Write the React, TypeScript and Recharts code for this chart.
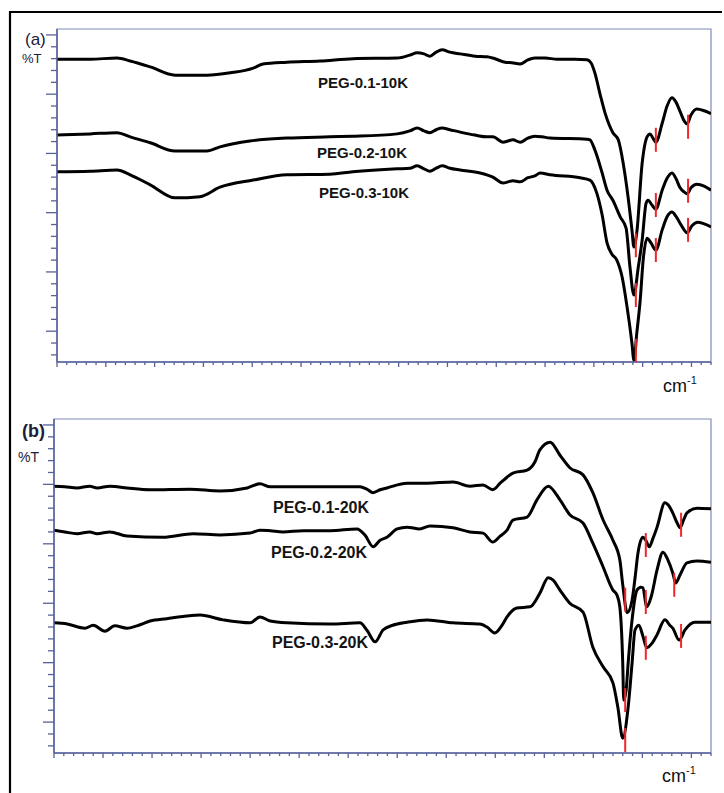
import React from "react";
import { ComposedChart, Line, Scatter, XAxis, YAxis, ReferenceArea } from "recharts";

// position along the (unlabelled) wavenumber axis, %T (offset traces)
const peg01_10k = [
  [0, 95.9], [6.8, 95.9], [12.3, 96.1], [15.0, 95.6], [19.1, 94.6], [24.2, 93.2], [30.7, 93.2], [35.5, 93.6],
  [40.2, 94.4], [42.2, 95.1], [47.1, 95.4], [53.9, 95.6], [60.7, 96.0], [69.7, 96.1], [72.3, 96.6], [73.8, 97.0],
  [75.2, 96.8], [76.4, 96.4], [77.7, 97.1], [78.9, 97.5], [80.5, 97.1], [82.6, 96.8], [85.7, 96.4], [88.1, 96.3],
  [89.3, 96.1], [91.8, 95.4], [93.2, 95.3], [94.9, 95.1], [96.5, 95.8], [97.9, 96.1], [100, 96.1], [102.5, 95.9],
  [106.1, 95.9], [108.6, 95.8], [109.4, 95.3], [110.2, 93.6], [111.3, 89.9], [112.3, 86.8], [113.9, 83.5],
  [115.0, 82.3], [116.0, 78.4], [117.0, 72.7], [117.8, 67.1], [118.2, 64.2], [118.8, 66.7], [119.9, 78.4],
  [120.9, 82.8], [121.5, 83.3], [122.1, 82.6], [122.7, 81.9], [124.0, 85.1], [125.0, 88.0], [126.0, 89.4],
  [126.8, 88.7], [127.7, 87.0], [128.5, 85.5], [129.1, 85.0], [129.9, 86.5], [131.1, 87.5], [132.6, 87.2], [134, 86.7],
];
const peg02_10k = [
  [0, 83.1], [6.8, 83.3], [12.3, 83.5], [15.0, 82.8], [19.1, 81.8], [24.2, 80.4], [30.7, 80.4], [33.4, 81.1],
  [39.5, 82.1], [47.1, 82.6], [55.9, 82.8], [60.6, 82.9], [69.7, 83.3], [72.3, 83.8], [73.8, 84.3], [75.2, 83.8],
  [76.4, 83.5], [77.7, 84.0], [78.9, 84.3], [80.5, 84.0], [82.6, 83.6], [85.6, 83.1], [88.1, 82.8], [89.3, 82.8],
  [91.4, 81.9], [92.4, 82.1], [93.4, 82.3], [94.9, 81.9], [96.5, 82.6], [97.9, 82.9], [99.4, 82.8], [101.0, 82.6],
  [108.6, 82.4], [109.2, 82.3], [110.2, 80.6], [111.7, 76.7], [112.7, 73.8], [113.9, 72.1], [115.4, 69.3],
  [116.6, 67.4], [117.4, 60.8], [118.2, 56.1], [119.1, 60.8], [119.9, 65.4], [120.7, 71.6], [121.1, 72.1],
  [121.9, 71.3], [122.7, 70.6], [124.0, 73.8], [125.0, 75.8], [126.0, 76.7], [126.8, 75.8], [127.6, 74.3],
  [128.5, 73.5], [129.1, 73.2], [129.9, 74.2], [131.1, 74.8], [132.6, 74.5], [134, 73.8],
];
const peg03_10k = [
  [0, 76.9], [6.8, 77.0], [12.3, 77.2], [15.0, 76.4], [19.1, 74.7], [24.2, 72.5], [29.3, 72.7], [33.4, 74.3],
  [40.2, 75.5], [47.1, 76.4], [55.9, 76.5], [60.6, 76.9], [69.7, 77.4], [72.3, 77.5], [73.8, 77.9], [75.2, 77.4],
  [76.4, 77.0], [77.7, 77.5], [78.9, 77.9], [80.5, 77.5], [82.6, 77.2], [86.7, 76.7], [89.3, 76.0], [91.4, 75.0],
  [92.4, 75.2], [93.4, 75.4], [94.9, 75.2], [96.5, 75.9], [97.9, 76.2], [99.0, 76.7], [101.0, 76.4], [107.2, 75.9],
  [109.2, 75.5], [110.6, 73.3], [111.7, 69.6], [112.7, 64.9], [113.7, 63.0], [114.7, 62.0], [115.8, 59.1],
  [116.8, 54.1], [117.8, 48.0], [118.2, 45.1], [118.8, 49.7], [119.5, 55.3], [120.1, 62.0], [120.9, 65.7],
  [121.7, 64.9], [122.7, 63.7], [124.0, 67.1], [125.0, 69.3], [126.0, 70.1], [126.8, 69.4], [127.6, 68.3],
  [128.5, 67.1], [129.1, 66.6], [130.1, 67.8], [131.3, 68.4], [132.6, 68.1], [134, 67.6],
];

const peg01_20k = [
  [0, 89.7], [2.2, 89.6], [4.7, 89.4], [7.3, 89.7], [8.8, 89.4], [11.4, 89.7], [14.9, 89.4], [19.6, 89.1],
  [27.7, 89.2], [33.9, 88.9], [39.4, 89.4], [42.0, 90.1], [44.1, 89.6], [46.7, 89.6], [50.8, 89.6], [56.3, 89.6],
  [62.4, 89.6], [63.8, 89.2], [65.1, 88.6], [66.5, 89.1], [67.9, 89.4], [72.0, 90.2], [76.1, 90.2], [81.4, 90.4],
  [84.8, 89.7], [87.5, 89.9], [89.5, 89.1], [91.0, 90.2], [92.4, 91.2], [93.6, 91.9], [96.5, 92.4], [98.1, 93.8],
  [99.1, 95.8], [101.2, 97.1], [103.2, 94.9], [105.2, 92.8], [107.9, 91.6], [109.9, 88.6], [112.0, 84.0],
  [114.0, 80.6], [115.4, 77.3], [116.0, 73.1], [116.9, 68.4], [117.9, 70.5], [118.5, 74.2], [119.1, 78.4],
  [120.1, 81.1], [120.7, 80.6], [121.4, 79.5], [122.2, 81.0], [123.0, 82.8], [124.6, 86.9], [125.4, 86.4],
  [126.2, 85.2], [127.1, 83.5], [127.7, 82.7], [128.5, 84.2], [129.1, 85.2], [131.2, 86.0], [134, 85.9],
];
const peg02_20k = [
  [0, 82.3], [2.2, 82.0], [4.7, 81.7], [7.3, 82.0], [8.8, 81.7], [11.4, 82.0], [14.9, 81.3], [22.2, 81.1],
  [28.4, 81.7], [33.9, 81.5], [40.0, 81.8], [42.0, 82.3], [44.1, 82.2], [46.7, 82.0], [50.8, 82.2], [56.3, 82.2],
  [61.8, 82.5], [63.4, 81.5], [65.1, 79.5], [66.5, 80.6], [67.9, 81.1], [70.0, 82.5], [72.0, 82.8], [74.6, 82.5],
  [76.7, 83.0], [81.4, 82.7], [84.8, 82.0], [87.5, 81.8], [89.5, 80.3], [91.0, 81.3], [92.4, 82.3], [93.6, 84.0],
  [96.5, 84.5], [98.5, 87.4], [100.8, 89.7], [103.2, 87.4], [105.2, 84.9], [107.9, 83.5], [109.9, 80.1],
  [112.0, 76.1], [114.0, 72.2], [114.8, 71.4], [115.4, 69.4], [116.0, 59.9], [116.2, 53.7], [116.7, 55.4],
  [117.1, 59.9], [117.9, 67.2], [118.9, 72.2], [119.7, 72.7], [120.1, 72.6], [120.9, 69.4], [121.8, 71.1],
  [123.0, 75.6], [124.2, 78.6], [125.2, 77.3], [126.2, 75.1], [126.8, 73.4], [127.7, 74.8], [129.1, 76.8],
  [131.1, 77.1], [134, 76.9],
];
const peg03_20k = [
  [0, 66.7], [2.7, 66.5], [6.3, 65.8], [8.0, 66.3], [10.4, 65.3], [12.4, 66.2], [14.9, 65.8], [16.9, 66.2],
  [19.6, 67.0], [23.0, 67.4], [27.7, 67.9], [29.8, 68.0], [34.5, 67.2], [40.0, 66.7], [42.0, 67.7], [44.1, 67.0],
  [47.5, 66.7], [56.3, 66.5], [62.4, 66.7], [63.8, 65.5], [65.5, 63.5], [67.1, 65.5], [69.1, 66.3], [72.0, 66.8],
  [76.1, 67.2], [81.4, 66.7], [86.9, 66.5], [88.3, 66.0], [89.9, 65.0], [91.4, 66.3], [92.4, 67.7], [94.4, 69.2],
  [97.1, 69.4], [99.1, 71.7], [100.8, 74.3], [101.8, 73.9], [103.2, 72.2], [105.2, 70.0], [107.9, 68.5],
  [109.9, 62.6], [112.0, 59.3], [114.0, 56.6], [115.0, 52.5], [116.0, 47.3], [117.1, 52.5], [117.9, 59.9],
  [118.5, 65.5], [119.3, 66.3], [120.1, 64.5], [120.9, 62.5], [122.0, 63.3], [123.0, 64.7], [124.6, 67.2],
  [125.6, 66.3], [126.2, 65.8], [127.5, 63.8], [128.7, 65.5], [130.7, 66.8], [134, 66.8],
];

// red band markers sitting on the dips
const marksA = [
  [118.6, 64.5], [122.7, 82.3], [129.3, 84.5],
  [118.6, 56.1], [122.7, 71.3], [129.3, 73.7],
  [118.6, 46.7], [122.7, 63.7], [129.3, 67.1],
];
const marksB = [
  [116.5, 70.6], [120.7, 79.8], [127.9, 83.2],
  [116.5, 53.7], [120.7, 70.2], [126.5, 73.1],
  [116.5, 47.0], [120.7, 62.5], [127.9, 64.5],
];

const xTicks = Array.from({ length: 68 }, (_, i) => i * 2);
const yTicks = Array.from({ length: 28 }, (_, i) => 46 + i * 2);
const X_DOMAIN: [number, number] = [0, 134];
const Y_DOMAIN: [number, number] = [44.8, 101];

const AXIS = "#56619a";
const FRAME = "#8089bb";
const FONT = "'Liberation Sans', Arial, sans-serif";

const toRows = (pts: number[][]) => pts.map(([x, y]) => ({ x, y }));

function XTick(props: any) {
  const { x, y, payload } = props;
  const major = payload.value % 10 === 0;
  return <line x1={x} x2={x} y1={y} y2={y + (major ? 5 : 3)} stroke={AXIS} strokeWidth={1.3} />;
}

function YTick(props: any) {
  const { x, y, payload } = props;
  const major = payload.value % 10 === 0;
  return <line x1={x} x2={x - (major ? 11 : 6)} y1={y} y2={y} stroke={AXIS} strokeWidth={1.3} />;
}

function RedMark(props: any) {
  const { cx, cy } = props;
  return <line x1={cx} x2={cx} y1={cy - 12} y2={cy + 12} stroke="#f0262a" strokeWidth={2} />;
}

function Panel({
  top,
  margin,
  series,
  marks,
}: {
  top: number;
  margin: { top: number; right: number; bottom: number; left: number };
  series: number[][][];
  marks: number[][];
}) {
  return (
    <div style={{ position: "absolute", left: 0, top }}>
      <ComposedChart width={724} height={400} margin={margin}>
        <ReferenceArea
          x1={X_DOMAIN[0]}
          x2={X_DOMAIN[1]}
          y1={Y_DOMAIN[0]}
          y2={Y_DOMAIN[1]}
          fill="none"
          stroke={FRAME}
          strokeWidth={1.2}
          ifOverflow="visible"
        />
        <XAxis
          type="number"
          dataKey="x"
          domain={X_DOMAIN}
          allowDataOverflow
          ticks={xTicks}
          interval={0}
          height={10}
          tickSize={0}
          tickMargin={0}
          tick={<XTick />}
          axisLine={{ stroke: AXIS, strokeWidth: 1.5 }}
        />
        <YAxis
          type="number"
          dataKey="y"
          domain={Y_DOMAIN}
          allowDataOverflow
          ticks={yTicks}
          interval={0}
          width={12}
          tickSize={0}
          tickMargin={0}
          tick={<YTick />}
          axisLine={{ stroke: AXIS, strokeWidth: 1.5 }}
        />
        {series.map((s, i) => (
          <Line
            key={i}
            data={toRows(s)}
            dataKey="y"
            type="monotone"
            stroke="#000"
            strokeWidth={3}
            strokeLinejoin="round"
            dot={false}
            activeDot={false}
            isAnimationActive={false}
          />
        ))}
        <Scatter data={toRows(marks)} dataKey="y" shape={<RedMark />} isAnimationActive={false} />
      </ComposedChart>
    </div>
  );
}

export default function App() {
  const labelStyle = { fontFamily: FONT, fontWeight: 700, fill: "#141414" } as const;
  return (
    <div
      style={{
        position: "fixed",
        left: 0,
        top: 0,
        width: 724,
        height: 793,
        background: "#fff",
        overflow: "hidden",
      }}
    >
      <Panel
        top={0}
        margin={{ top: 29, right: 13, bottom: 28, left: 45 }}
        series={[peg01_10k, peg02_10k, peg03_10k]}
        marks={marksA}
      />
      <Panel
        top={390}
        margin={{ top: 29, right: 13, bottom: 27, left: 42 }}
        series={[peg01_20k, peg02_20k, peg03_20k]}
        marks={marksB}
      />
      <svg
        width={724}
        height={793}
        style={{ position: "absolute", left: 0, top: 0, pointerEvents: "none" }}
      >
        <line x1={10} x2={10} y1={11} y2={793} stroke="#000" strokeWidth={2.2} />
        <line x1={9} x2={722} y1={12} y2={12} stroke="#000" strokeWidth={2} />

        <text x={25} y={45} fontFamily={FONT} fontSize={17} fill="#1b2038">(a)</text>
        <text x={22} y={63} fontFamily={FONT} fontSize={13} fill="#1b2038">%T</text>
        <text x={22} y={437} fontFamily={FONT} fontSize={18} fontWeight={700} fill="#1b2038">(b)</text>
        <text x={18} y={462} fontFamily={FONT} fontSize={14} fill="#1b2038">%T</text>

        <text x={318} y={88} fontSize={15} {...labelStyle}>PEG-0.1-10K</text>
        <text x={317} y={158} fontSize={15} {...labelStyle}>PEG-0.2-10K</text>
        <text x={319} y={198} fontSize={15} {...labelStyle}>PEG-0.3-10K</text>

        <text x={273} y={513} fontSize={16} {...labelStyle}>PEG-0.1-20K</text>
        <text x={271} y={558} fontSize={16} {...labelStyle}>PEG-0.2-20K</text>
        <text x={272} y={648} fontSize={16} {...labelStyle}>PEG-0.3-20K</text>

        <text x={663} y={392} fontFamily={FONT} fontSize={18} fill="#111">
          cm<tspan fontSize={11} dy={-8}>-1</tspan>
        </text>
        <text x={662} y={782} fontFamily={FONT} fontSize={18} fill="#111">
          cm<tspan fontSize={11} dy={-8}>-1</tspan>
        </text>
      </svg>
    </div>
  );
}
